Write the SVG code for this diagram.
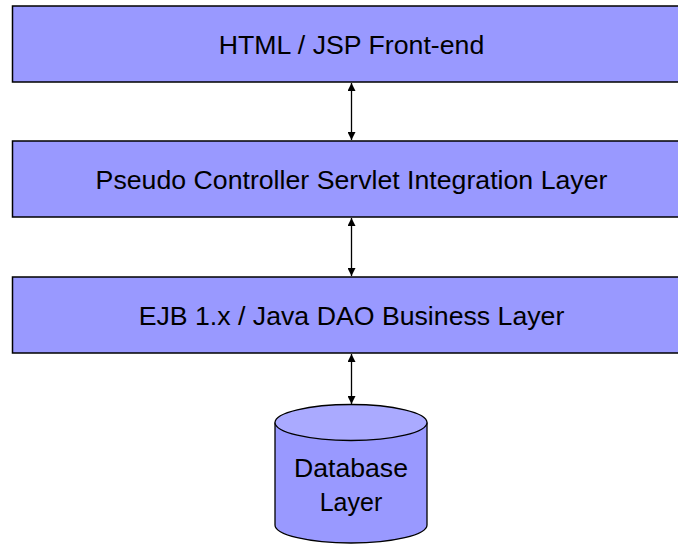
<svg xmlns="http://www.w3.org/2000/svg" width="678" height="544" viewBox="0 0 678 544">
<style>
.box{fill:#9999FF;stroke:#000;stroke-width:1.5}
.lbl{font-family:"Liberation Sans",Arial,sans-serif;font-size:26.7px;fill:#000;text-anchor:middle}
.db{font-family:"Liberation Sans",Arial,sans-serif;font-size:25px;fill:#000;text-anchor:middle}
.conn{stroke:#000;stroke-width:1.3;fill:none;marker-start:url(#ah);marker-end:url(#ah)}
</style>
<defs>
<marker id="ah" viewBox="0 0 10 10" refX="10" refY="5" markerWidth="8" markerHeight="8" markerUnits="userSpaceOnUse" orient="auto-start-reverse">
<path d="M0,0 L10,5 L0,10 z" fill="#000"/>
</marker>
</defs>
<rect width="678" height="544" fill="#fff"/>
<g id="frontend">
<rect class="box" x="12.5" y="6" width="680" height="76"/>
<text class="lbl" x="351.5" y="54">HTML / JSP Front-end</text>
</g>
<g id="controller">
<rect class="box" x="12.5" y="141" width="680" height="76"/>
<text class="lbl" x="351.5" y="189">Pseudo Controller Servlet Integration Layer</text>
</g>
<g id="business">
<rect class="box" x="12.5" y="277" width="680" height="76"/>
<text class="lbl" x="351.5" y="325">EJB 1.x / Java DAO Business Layer</text>
</g>
<g id="database">
<path d="M275,422.5 L275,525 A76,18 0 0 0 427,525 L427,422.5" fill="#9999FF" stroke="#000" stroke-width="1.3"/>
<ellipse cx="351" cy="422.5" rx="76" ry="18" fill="#AAAAFF" stroke="#000" stroke-width="1.3"/>
<text class="db" x="351" y="477" textLength="114" lengthAdjust="spacingAndGlyphs">Database</text>
<text class="db" x="351" y="511">Layer</text>
</g>
<g id="connectors">
<line class="conn" x1="351.5" y1="83" x2="351.5" y2="140"/>
<line class="conn" x1="351.5" y1="218" x2="351.5" y2="276"/>
<line class="conn" x1="351.5" y1="354" x2="351.5" y2="404"/>
</g>
</svg>
